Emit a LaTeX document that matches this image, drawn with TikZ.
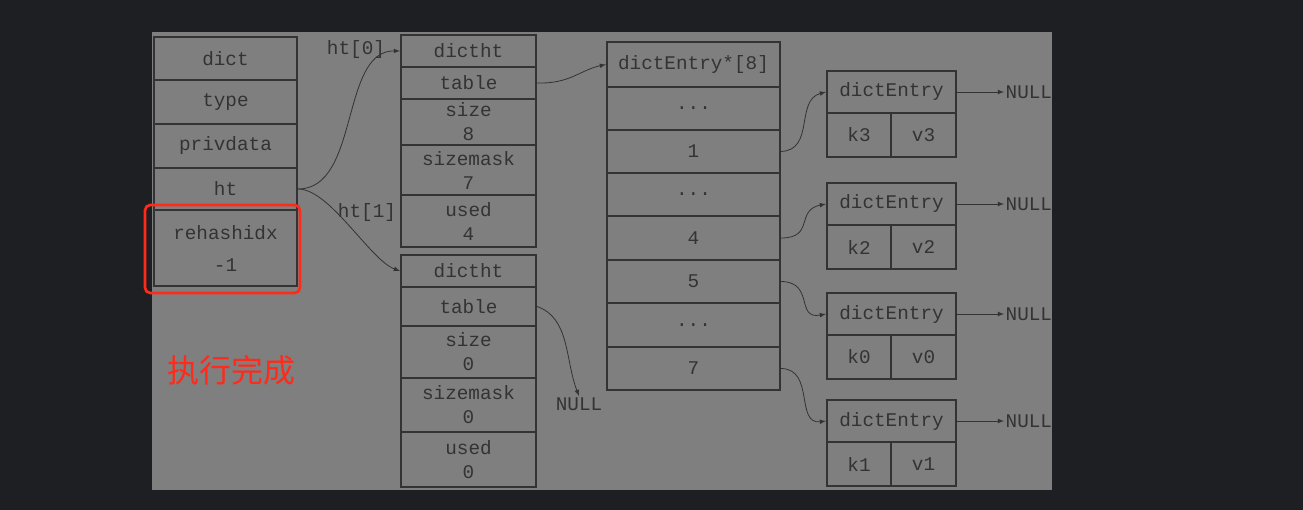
\documentclass[tikz,border=0pt]{standalone}
\usepackage{fontspec}
\setmainfont{Liberation Mono}
\newfontfamily\cjk{Noto Sans CJK SC}
\usetikzlibrary{positioning}
\definecolor{bgdark}{HTML}{1E1F22}
\definecolor{panel}{HTML}{7F7F7F}
\definecolor{ink}{HTML}{333333}
\definecolor{redmark}{HTML}{FF2A1A}
\tikzset{
  cell/.style = {draw = ink, line width = 1.6pt, text = ink, inner sep = 0pt,
                 font = \fontsize{14.5}{18}\selectfont, align = center},
  link/.style = {draw = ink, line width = 0.6pt, -latex},
  lbl/.style = {text = ink, font = \fontsize{14.5}{18}\selectfont, inner sep = 1pt}
}
\newcommand\cellat[6]{% name, x1, y1, x2, y2, text
  \node [cell, minimum width = {((#4)-(#2))*0.75pt}, minimum height = {((#5)-(#3))*0.75pt}]
        (#1) at ({((#2)+(#4))/2}, {((#3)+(#5))/2}) {#6};}
\begin{document}
\begin{tikzpicture}[x = 0.75pt, y = -0.75pt]
    \useasboundingbox (0, 0) rectangle (1303, 510);
    \fill [bgdark] (0, 0) rectangle (1303, 510);
    \fill [panel] (152, 32) rectangle (1052, 490);

    % dict
    \cellat{dict}{154}{37}{297}{80}{dict}
    \cellat{type}{154}{80}{297}{124}{type}
    \cellat{priv}{154}{124}{297}{168}{privdata}
    \cellat{ht}{154}{168}{297}{210}{ht}
    \cellat{rehash}{154}{210}{297}{286}{rehashidx\\[6pt]-1}
    \draw [redmark, line width = 2pt, rounded corners = 4pt] (145, 205) rectangle (300, 293);
    \node [text = redmark, font = \cjk\fontsize{24}{28}\selectfont] (done) at (231, 370) {执行完成};

    % ht[0]
    \cellat{hta}{401}{35}{536}{67}{dictht}
    \cellat{hta table}{401}{67}{536}{99}{table}
    \cellat{hta size}{401}{99}{536}{145}{size\\8}
    \cellat{hta mask}{401}{145}{536}{195}{sizemask\\7}
    \cellat{hta used}{401}{195}{536}{247}{used\\4}

    % ht[1]
    \cellat{htb}{401}{255}{536}{287}{dictht}
    \cellat{htb table}{401}{287}{536}{326}{table}
    \cellat{htb size}{401}{326}{536}{378}{size\\0}
    \cellat{htb mask}{401}{378}{536}{432}{sizemask\\0}
    \cellat{htb used}{401}{432}{536}{487}{used\\0}

    % table
    \cellat{arr}{607}{42}{780}{87}{dictEntry*[8]}
    \cellat{arr a}{607}{87}{780}{130}{...}
    \cellat{arr 1}{607}{130}{780}{173}{1}
    \cellat{arr b}{607}{173}{780}{216}{...}
    \cellat{arr 4}{607}{216}{780}{260}{4}
    \cellat{arr 5}{607}{260}{780}{303}{5}
    \cellat{arr c}{607}{303}{780}{347}{...}
    \cellat{arr 7}{607}{347}{780}{390}{7}

    % entries
    \foreach \n/\k/\t in {e3/3/71, e2/2/183, e0/0/293, e1/1/400}
    {
        \cellat{\n}{827}{\t}{956}{\t+42}{dictEntry}
        \cellat{\n k}{827}{\t+42}{891}{\t+86}{k\k}
        \cellat{\n v}{891}{\t+42}{956}{\t+86}{v\k}
        \begin{scope}
            \clip (952, \t) rectangle (1052, \t+42);
            \node [lbl, right = 47*0.75pt of \n.east] (\n null) {NULL};
        \end{scope}
        \draw [link] (\n.east) -- (\n null.west);
    }

    % links
    \node [lbl] (ht0) at (356, 50) {ht[0]};
    \node [lbl] (ht1) at (367, 213) {ht[1]};
    \node [lbl] (null b) at (579, 404) {NULL};
    \draw [link] (ht.east) .. controls (360, 189) and (340, 50) .. (hta.west);
    \draw [link] (ht.east) .. controls (330, 189) and (370, 260) .. (htb.west);
    \draw [link] (hta table.east) .. controls (570, 84) and (580, 70) .. (arr.west);
    \draw [link] (htb table.east) .. controls (570, 318) and (565, 360) .. (null b.north);
    \draw [link] (arr 1.east) .. controls (815, 150) and (795, 100) .. (e3.west);
    \draw [link] (arr 4.east) .. controls (815, 238) and (795, 210) .. (e2.west);
    \draw [link] (arr 5.east) .. controls (815, 282) and (795, 320) .. (e0.west);
    \draw [link] (arr 7.east) .. controls (815, 369) and (795, 425) .. (e1.west);
\end{tikzpicture}
\end{document}
